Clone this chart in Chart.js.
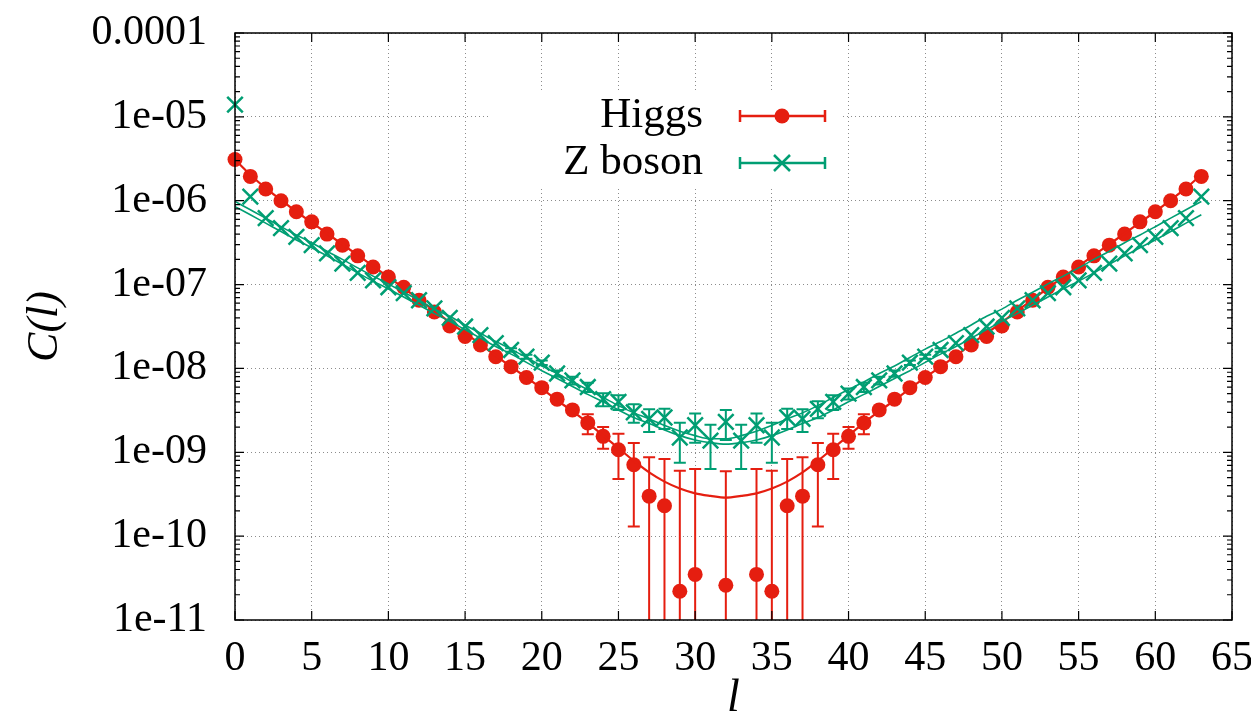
<!DOCTYPE html>
<html>
<head>
<meta charset="UTF-8">
<title>C(l)</title>
<script src="https://cdn.jsdelivr.net/npm/chart.js"></script>
<style>
  html, body { margin: 0; padding: 0; background: #fff; }
</style>
</head>
<body>
<canvas id="corr" width="1251" height="727"></canvas>
<script>
// lattice separation l
var lValues = [0,1,2,3,4,5,6,7,8,9,10,11,12,13,14,15,16,17,18,19,20,21,22,23,24,25,26,27,28,29,30,31,
               32,33,34,35,36,37,38,39,40,41,42,43,44,45,46,47,48,49,50,51,52,53,54,55,56,57,58,59,60,61,62,63];

var seriesNames = ['Higgs', 'Z boson'];

// Higgs correlator (null = not shown)
var higgs = [3.1e-6, 1.95e-6, 1.38e-6, 1.0e-6, 7.4e-7, 5.6e-7, 4.0e-7, 2.95e-7, 2.2e-7, 1.62e-7,
             1.23e-7, 9.3e-8, 6.5e-8, 4.7e-8, 3.2e-8, 2.4e-8, 1.9e-8, 1.38e-8, 1.05e-8, 7.8e-9,
             5.9e-9, 4.3e-9, 3.2e-9, 2.24e-9, 1.55e-9, 1.07e-9, 7.1e-10, 3.0e-10, 2.3e-10, 2.2e-11,
             3.5e-11, null, 2.6e-11, null, 3.5e-11, 2.2e-11, 2.3e-10, 3.0e-10, 7.1e-10, 1.07e-9,
             1.55e-9, 2.24e-9, 3.2e-9, 4.3e-9, 5.9e-9, 7.8e-9, 1.05e-8, 1.38e-8, 1.9e-8, 2.4e-8,
             3.2e-8, 4.7e-8, 6.5e-8, 9.3e-8, 1.23e-7, 1.62e-7, 2.2e-7, 2.95e-7, 4.0e-7, 5.6e-7,
             7.4e-7, 1.0e-6, 1.38e-6, 1.95e-6];
var higgsErr = [null, null, null, null, null, null, null, null, null, null,
                null, null, null, null, null, null, null, null, null, null,
                null, null, null, 6.0e-10, 4.5e-10, 5.9e-10, 5.8e-10, 5.7e-10, 6.0e-10, 5.8e-10,
                5.95e-10, null, 5.7e-10, null, 5.95e-10, 5.8e-10, 6.0e-10, 5.7e-10, 5.8e-10, 5.9e-10,
                4.5e-10, 6.0e-10, null, null, null, null, null, null, null, null,
                null, null, null, null, null, null, null, null, null, null,
                null, null, null, null];
var higgsFit = [3.09e-6, 2.04e-6, 1.41e-6, 1.02e-6, 7.4e-7, 5.5e-7, 4.07e-7, 3.02e-7, 2.24e-7, 1.66e-7,
                1.23e-7, 9.1e-8, 6.6e-8, 4.9e-8, 3.55e-8, 2.63e-8, 1.95e-8, 1.41e-8, 1.05e-8, 7.8e-9,
                5.75e-9, 4.17e-9, 3.09e-9, 2.24e-9, 1.58e-9, 1.12e-9, 7.9e-10, 5.75e-10, 4.47e-10, 3.7e-10,
                3.24e-10, 3.02e-10, 2.88e-10, 3.02e-10, 3.24e-10, 3.7e-10, 4.47e-10, 5.75e-10, 7.9e-10, 1.12e-9,
                1.58e-9, 2.24e-9, 3.09e-9, 4.17e-9, 5.75e-9, 7.8e-9, 1.05e-8, 1.41e-8, 1.95e-8, 2.63e-8,
                3.55e-8, 4.9e-8, 6.6e-8, 9.1e-8, 1.23e-7, 1.66e-7, 2.24e-7, 3.02e-7, 4.07e-7, 5.5e-7,
                7.4e-7, 1.02e-6, 1.41e-6, 2.04e-6];

// Z boson correlator
var zboson = [1.4e-5, 1.12e-6, 6.2e-7, 4.7e-7, 3.7e-7, 2.95e-7, 2.35e-7, 1.78e-7, 1.38e-7, 1.12e-7,
              9.3e-8, 7.9e-8, 6.5e-8, 5.2e-8, 4.0e-8, 3.16e-8, 2.5e-8, 2.0e-8, 1.66e-8, 1.38e-8,
              1.17e-8, 8.7e-9, 7.2e-9, 6.0e-9, 4.3e-9, 4.0e-9, 3.0e-9, 2.5e-9, 2.6e-9, 1.5e-9,
              2.1e-9, 1.38e-9, 2.3e-9, 1.38e-9, 2.1e-9, 1.5e-9, 2.6e-9, 2.5e-9, 3.3e-9, 4.0e-9,
              5.0e-9, 6.0e-9, 7.2e-9, 8.7e-9, 1.17e-8, 1.38e-8, 1.66e-8, 2.0e-8, 2.5e-8, 3.16e-8,
              4.0e-8, 5.2e-8, 6.5e-8, 7.9e-8, 9.3e-8, 1.12e-7, 1.38e-7, 1.78e-7, 2.35e-7, 2.95e-7,
              3.7e-7, 4.7e-7, 6.2e-7, 1.12e-6];
var zbosonErr = [null, null, null, null, null, null, null, null, null, null,
                 null, null, null, null, null, null, null, null, 7.5e-10, 7.5e-10,
                 7.5e-10, 7.5e-10, 7.5e-10, 7.5e-10, 7.5e-10, 8.0e-10, 7.5e-10, 7.5e-10, 7.0e-10, 7.5e-10,
                 8.0e-10, 7.5e-10, 9.0e-10, 7.5e-10, 8.0e-10, 7.5e-10, 7.0e-10, 7.5e-10, 7.5e-10, 8.0e-10,
                 7.5e-10, 7.5e-10, 7.5e-10, 7.5e-10, 7.5e-10, 7.5e-10, 7.5e-10, null, null, null,
                 null, null, null, null, null, null, null, null, null, null,
                 null, null, null, null];
var zbosonFitA = [9.8e-7, 7.8e-7, 6.2e-7, 4.9e-7, 3.9e-7, 3.16e-7, 2.5e-7, 2.0e-7, 1.58e-7, 1.26e-7,
                  1.02e-7, 8.1e-8, 6.5e-8, 5.1e-8, 4.2e-8, 3.3e-8, 2.63e-8, 2.09e-8, 1.7e-8, 1.35e-8,
                  1.07e-8, 8.7e-9, 6.9e-9, 5.6e-9, 4.5e-9, 3.6e-9, 2.95e-9, 2.5e-9, 2.09e-9, 1.78e-9,
                  1.58e-9, 1.45e-9, 1.45e-9, 1.58e-9, 1.78e-9, 2.09e-9, 2.5e-9, 2.95e-9, 3.6e-9, 4.5e-9,
                  5.6e-9, 6.9e-9, 8.7e-9, 1.07e-8, 1.35e-8, 1.7e-8, 2.09e-8, 2.63e-8, 3.3e-8, 4.2e-8,
                  5.1e-8, 6.5e-8, 8.1e-8, 1.02e-7, 1.26e-7, 1.58e-7, 2.0e-7, 2.5e-7, 3.16e-7, 3.9e-7,
                  4.9e-7, 6.2e-7, 7.8e-7, 9.8e-7];
var zbosonFitB = [8.5e-7, 6.8e-7, 5.4e-7, 4.3e-7, 3.4e-7, 2.75e-7, 2.2e-7, 1.75e-7, 1.38e-7, 1.1e-7,
                  8.9e-8, 7.1e-8, 5.7e-8, 4.5e-8, 3.65e-8, 2.9e-8, 2.3e-8, 1.83e-8, 1.48e-8, 1.18e-8,
                  9.4e-9, 7.6e-9, 6.1e-9, 4.9e-9, 4.0e-9, 3.2e-9, 2.6e-9, 2.2e-9, 1.85e-9, 1.58e-9,
                  1.4e-9, 1.3e-9, 1.25e-9, 1.3e-9, 1.4e-9, 1.58e-9, 1.85e-9, 2.2e-9, 2.6e-9, 3.2e-9,
                  4.0e-9, 4.9e-9, 6.1e-9, 7.6e-9, 9.4e-9, 1.18e-8, 1.48e-8, 1.83e-8, 2.3e-8, 2.9e-8,
                  3.65e-8, 4.5e-8, 5.7e-8, 7.1e-8, 8.9e-8, 1.1e-7, 1.38e-7, 1.75e-7, 2.2e-7, 2.75e-7,
                  3.4e-7, 4.3e-7, 5.4e-7, 6.8e-7];

var xTicks = [0, 5, 10, 15, 20, 25, 30, 35, 40, 45, 50, 55, 60, 65];
var yTickValues = [1e-11, 1e-10, 1e-9, 1e-8, 1e-7, 1e-6, 1e-5, 1e-4];
var yTickLabels = ['1e-11', '1e-10', '1e-09', '1e-08', '1e-07', '1e-06', '1e-05', '0.0001'];

var RED = '#e51e10';
var GREEN = '#009e73';
var SERIF = '"Liberation Serif", "Times New Roman", serif';

function pts(ys) {
    return lValues.map(function (l, i) { return { x: l, y: ys[i] }; });
}

function drawErrorBars(ctx, chart, vals, errs, color) {
    var xs = chart.scales.x, ys = chart.scales.y, area = chart.chartArea;
    ctx.strokeStyle = color;
    ctx.lineWidth = 2;
    for (var i = 0; i < lValues.length; i++) {
        if (vals[i] == null || errs[i] == null) continue;
        var x = xs.getPixelForValue(lValues[i]);
        var hi = vals[i] + errs[i], lo = vals[i] - errs[i];
        var yHi = ys.getPixelForValue(hi);
        var yLo = lo > 0 ? ys.getPixelForValue(lo) : area.bottom + 20;
        ctx.beginPath();
        ctx.moveTo(x, yLo); ctx.lineTo(x, yHi);
        ctx.moveTo(x - 6, yHi); ctx.lineTo(x + 6, yHi);
        if (lo > 0) { ctx.moveTo(x - 6, yLo); ctx.lineTo(x + 6, yLo); }
        ctx.stroke();
    }
}

var decorations = {
    id: 'decorations',
    beforeDatasetsDraw: function (chart) {
        var ctx = chart.ctx, area = chart.chartArea;
        ctx.save();
        // opaque key box
        ctx.fillStyle = '#fff';
        ctx.fillRect(490, 92, 350, 95);
        // key
        ctx.fillStyle = '#000';
        ctx.font = '43px ' + SERIF;
        ctx.textAlign = 'right';
        ctx.textBaseline = 'alphabetic';
        ctx.fillText(seriesNames[0], 703, 127);
        ctx.fillText(seriesNames[1], 703, 174);
        [[116, RED], [163, GREEN]].forEach(function (row) {
            var y = row[0];
            ctx.strokeStyle = row[1];
            ctx.lineWidth = 2.5;
            ctx.beginPath();
            ctx.moveTo(740, y); ctx.lineTo(825, y);
            ctx.moveTo(740, y - 6); ctx.lineTo(740, y + 6);
            ctx.moveTo(825, y - 6); ctx.lineTo(825, y + 6);
            ctx.stroke();
        });
        ctx.fillStyle = RED;
        ctx.beginPath(); ctx.arc(782, 116, 7.5, 0, Math.PI * 2); ctx.fill();
        ctx.strokeStyle = GREEN;
        ctx.lineWidth = 2.5;
        ctx.beginPath();
        ctx.moveTo(774, 155); ctx.lineTo(790, 171);
        ctx.moveTo(790, 155); ctx.lineTo(774, 171);
        ctx.stroke();
        // error bars
        ctx.beginPath();
        ctx.rect(area.left, area.top, area.right - area.left, area.bottom - area.top);
        ctx.clip();
        drawErrorBars(ctx, chart, higgs, higgsErr, RED);
        drawErrorBars(ctx, chart, zboson, zbosonErr, GREEN);
        ctx.restore();
    },
    afterDatasetsDraw: function (chart) {
        var ctx = chart.ctx, area = chart.chartArea, xs = chart.scales.x, ys = chart.scales.y;
        ctx.save();
        ctx.strokeStyle = '#000';
        ctx.lineWidth = 1.5;
        ctx.strokeRect(area.left, area.top, area.right - area.left, area.bottom - area.top);
        ctx.lineWidth = 1.2;
        ctx.beginPath();
        xTicks.forEach(function (v) {
            var x = xs.getPixelForValue(v);
            ctx.moveTo(x, area.bottom); ctx.lineTo(x, area.bottom - 9);
            ctx.moveTo(x, area.top); ctx.lineTo(x, area.top + 9);
        });
        yTickValues.forEach(function (v, i) {
            var y = ys.getPixelForValue(v);
            ctx.moveTo(area.left, y); ctx.lineTo(area.left + 9, y);
            ctx.moveTo(area.right, y); ctx.lineTo(area.right - 9, y);
            if (i < yTickValues.length - 1) {
                for (var k = 2; k < 10; k++) {
                    var ym = ys.getPixelForValue(v * k);
                    ctx.moveTo(area.left, ym); ctx.lineTo(area.left + 5, ym);
                    ctx.moveTo(area.right, ym); ctx.lineTo(area.right - 5, ym);
                }
            }
        });
        ctx.stroke();
        ctx.restore();
    }
};

Chart.defaults.font.family = SERIF;
Chart.defaults.color = '#000';

new Chart(document.getElementById('corr').getContext('2d'), {
    type: 'line',
    data: {
        datasets: [
            { label: seriesNames[1] + ' fit', data: pts(zbosonFitA), borderColor: GREEN, borderWidth: 1.6,
              pointRadius: 0, cubicInterpolationMode: 'monotone', fill: false },
            { label: seriesNames[1] + ' fit 2', data: pts(zbosonFitB), borderColor: GREEN, borderWidth: 1.6,
              pointRadius: 0, cubicInterpolationMode: 'monotone', fill: false },
            { label: seriesNames[1], data: pts(zboson), showLine: false, pointStyle: 'crossRot',
              pointRadius: 11, pointBorderWidth: 2.5, borderColor: GREEN, backgroundColor: GREEN, clip: false },
            { label: seriesNames[0] + ' fit', data: pts(higgsFit), borderColor: RED, borderWidth: 2.2,
              pointRadius: 0, cubicInterpolationMode: 'monotone', fill: false },
            { label: seriesNames[0], data: pts(higgs), showLine: false, pointStyle: 'circle',
              pointRadius: 7.5, pointBorderWidth: 0, backgroundColor: RED, borderColor: RED, clip: false }
        ]
    },
    options: {
        responsive: false,
        animation: false,
        devicePixelRatio: 1,
        layout: { padding: { left: 0, top: 33, right: 19, bottom: 0 } },
        plugins: { legend: { display: false }, tooltip: { enabled: false } },
        scales: {
            x: {
                type: 'linear', min: 0, max: 65,
                afterBuildTicks: function (s) { s.ticks = xTicks.map(function (v) { return { value: v }; }); },
                afterFit: function (s) { s.height = 107; s.paddingLeft = 0; s.paddingRight = 0; },
                grid: { color: '#8c8c8c', lineWidth: 1, drawTicks: false },
                border: { display: false, dash: [1, 3] },
                ticks: { font: { size: 42 }, padding: 14, maxRotation: 0, autoSkip: false },
                title: { display: true, text: 'l', font: { size: 46, style: 'italic' }, padding: { top: 0, bottom: 0 } }
            },
            y: {
                type: 'logarithmic', min: 1e-11, max: 1e-4,
                afterBuildTicks: function (s) { s.ticks = yTickValues.map(function (v) { return { value: v }; }); },
                afterFit: function (s) { s.width = 235; s.paddingTop = 0; s.paddingBottom = 0; },
                grid: { color: '#8c8c8c', lineWidth: 1, drawTicks: false },
                border: { display: false, dash: [1, 3] },
                ticks: {
                    font: { size: 42 }, padding: 28, autoSkip: false,
                    callback: function (v, i) { return yTickLabels[i]; }
                },
                title: { display: true, text: 'C(l)', font: { size: 44, style: 'italic' }, padding: { top: 19, bottom: 0 } }
            }
        }
    },
    plugins: [decorations]
});
</script>
</body>
</html>
